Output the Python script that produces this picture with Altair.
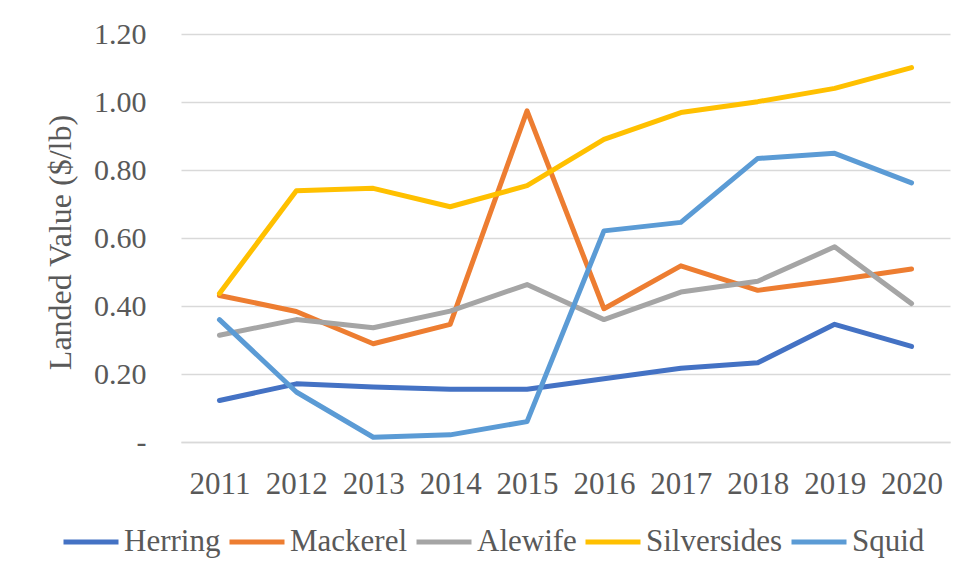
import altair as alt
import pandas as pd

years = ["2011", "2012", "2013", "2014", "2015", "2016", "2017", "2018", "2019", "2020"]
names = ["Herring", "Mackerel", "Alewife", "Silversides", "Squid"]
colors = ["#4472C4", "#ED7D31", "#A5A5A5", "#FFC000", "#5B9BD5"]

herring = [0.122, 0.171, 0.162, 0.155, 0.155, 0.186, 0.217, 0.233, 0.346, 0.281]
mackerel = [0.431, 0.384, 0.289, 0.346, 0.974, 0.392, 0.518, 0.446, 0.476, 0.509]
alewife = [0.314, 0.360, 0.336, 0.385, 0.463, 0.360, 0.441, 0.473, 0.574, 0.407]
silversides = [0.437, 0.739, 0.746, 0.692, 0.754, 0.890, 0.969, 1.001, 1.040, 1.101]
squid = [0.360, 0.147, 0.014, 0.021, 0.060, 0.621, 0.646, 0.834, 0.849, 0.762]

series = [herring, mackerel, alewife, silversides, squid]
rows = []
for name, vals in zip(names, series):
    for yr, v in zip(years, vals):
        rows.append({"Year": yr, "Value": v, "Series": name})
df = pd.DataFrame(rows)

FONT = "Liberation Serif"
TXT = "#595959"
GRID = "#D9D9D9"

chart = alt.Chart(df).mark_line(
    strokeWidth=5, strokeCap="round", strokeJoin="round"
).encode(
    x=alt.X(
        "Year:O",
        sort=years,
        scale=alt.Scale(type="point", padding=0.5),
        axis=alt.Axis(
            title=None, labelAngle=0, labelFont=FONT, labelFontSize=31,
            labelColor=TXT, labelPadding=27, ticks=False, grid=False,
            domainColor=GRID, domainWidth=1.5,
        ),
    ),
    y=alt.Y(
        "Value:Q",
        scale=alt.Scale(domain=[0, 1.2], nice=False),
        axis=alt.Axis(
            values=[0, 0.2, 0.4, 0.6, 0.8, 1.0, 1.2],
            labelExpr="datum.value == 0 ? '-\u00a0\u00a0' : format(datum.value, '.2f')",
            labelFont=FONT, labelFontSize=30, labelColor=TXT, labelPadding=35,
            ticks=False, domain=False, gridColor=GRID, gridWidth=1.5,
            title="Landed Value ($/lb)", titleFont=FONT, titleFontSize=32,
            titleFontWeight="normal", titleColor=TXT, titleX=-121, titleY=208,
            titleAngle=-90, titleBaseline="middle", titleAlign="center",
        ),
    ),
    color=alt.Color(
        "Series:N",
        scale=alt.Scale(domain=names, range=colors),
        legend=alt.Legend(
            title=None, orient="none", legendX=-120, legendY=478,
            direction="horizontal", symbolType="stroke", symbolSize=3025,
            symbolStrokeWidth=5, labelFont=FONT, labelFontSize=31,
            labelColor=TXT, labelOffset=3, columnPadding=-2, labelLimit=400,
        ),
    ),
).properties(
    width=769, height=408,
    autosize=alt.AutoSizeParams(type="none"),
    padding={"left": 173, "top": 26, "right": 9, "bottom": 127},
).configure_view(stroke=None)

chart.save("out.html", embed_options={"renderer": "svg", "actions": False})
